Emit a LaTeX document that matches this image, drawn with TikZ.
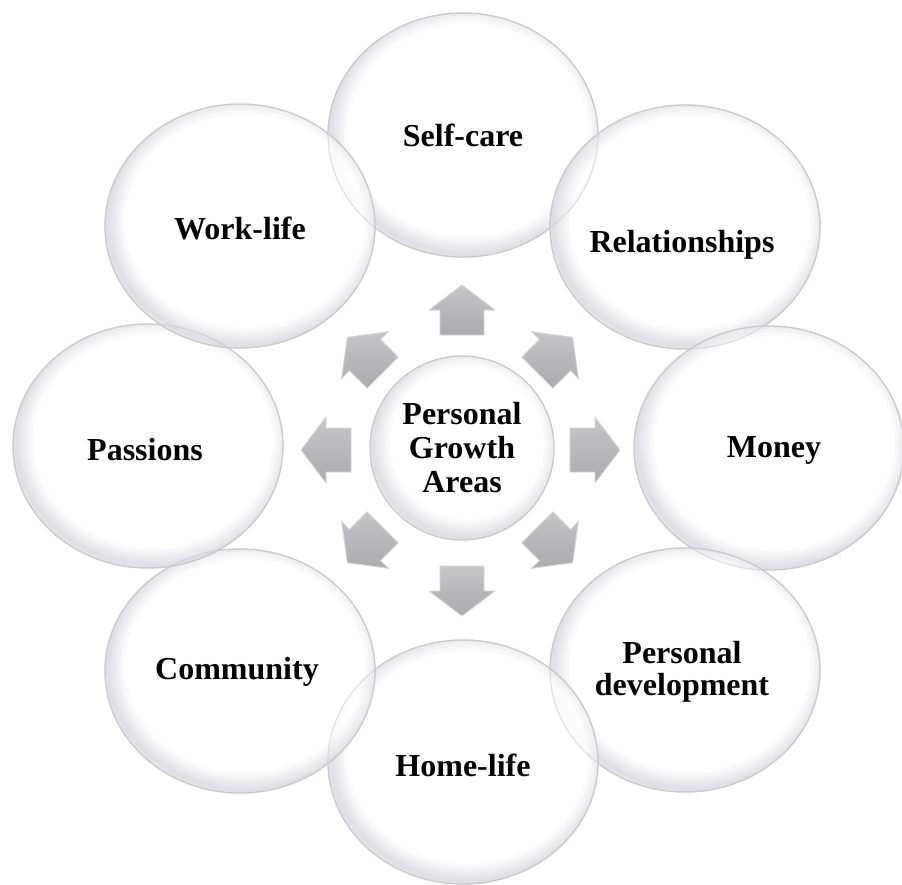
\documentclass[tikz,border=0pt]{standalone}
\usepackage{fontspec}
\setmainfont{Liberation Serif}
\usetikzlibrary{shapes.geometric}
\definecolor{bubbleshadow}{HTML}{AFAFC2}
\definecolor{bubbleline}{HTML}{C8C8CE}
\definecolor{arrtop}{HTML}{C6C6C9}
\definecolor{arrbot}{HTML}{ABABAF}
\definecolor{arrline}{HTML}{D6D6D9}
\tikzset{
  innershadow/.style 2 args={path picture={
    \foreach \w in {34,26,19,13,8,4}{
      \draw[bubbleshadow, line width=\w pt, draw opacity=0.075]
        ([shift={(5pt,5pt)}]path picture bounding box.center) ellipse [x radius=#1, y radius=#2];
    }}},
  bubble/.style={ellipse, minimum width=270pt, minimum height=244pt, inner sep=0pt,
    draw=bubbleline, line width=1.3pt, fill=white, fill opacity=0.85, draw opacity=0.9,
    innershadow={137pt}{124pt}},
  rim/.style={ellipse, minimum width=270pt, minimum height=244pt, inner sep=0pt,
    draw=bubbleline, line width=1.1pt, draw opacity=0.45},
  hubstyle/.style={circle, minimum size=184pt, inner sep=0pt, draw=bubbleline, line width=1.3pt,
    fill=white, innershadow={94pt}{94pt},
    font=\fontsize{32}{34}\selectfont\bfseries, align=center},
  lbl/.style={font=\fontsize{32}{32}\selectfont\bfseries, align=center, text=black, inner sep=0pt},
  arrowshape/.style={top color=arrtop, bottom color=arrbot, draw=arrline, line width=0.8pt}
}
\begin{document}
\begin{tikzpicture}[x=1pt,y=1pt]
\useasboundingbox (0,0) rectangle (902,-884);
\fill[white] (0,0) rectangle (902,-884);
% outer bubbles
\foreach \nm/\px/\py in {b1/463/-135, b2/685/-227, b3/769/-448, b4/685/-670,
                         b5/463/-762, b6/240/-671, b7/148/-446, b8/240/-226}{
  \node[bubble] (\nm) at (\px,\py) {};
}
% rims seen through the overlaps
\foreach \nm/\px/\py in {r1/463/-135, r2/685/-227, r3/769/-448, r4/685/-670,
                         r5/463/-762, r6/240/-671, r7/148/-446, r8/240/-226}{
  \node[rim] (\nm) at (\px,\py) {};
}
% labels
\node[lbl] (t1) at (463,-135) {Self-care};
\node[lbl] (t2) at (682,-245) {Relationships};
\node[lbl] (t3) at (774,-450) {Money};
\node[lbl] (t4) at (682,-672) {Personal\\development};
\node[lbl] (t5) at (463,-765) {Home-life};
\node[lbl] (t6) at (237,-672) {Community};
\node[lbl] (t7) at (145,-450) {Passions};
\node[lbl] (t8) at (240,-228) {Work-life};
% hub
\node[hubstyle] (hub) at (462,-448) {Personal\\Growth\\Areas};
% arrows
\foreach \px/\py/\ang in {462/-310/90, 555/-355/45, 595/-450/0, 555/-545/-45,
                          462/-591/-90, 365/-545/-135, 326/-450/180, 365/-355/135}{
  \begin{scope}[shift={(\px,\py)}, rotate=\ang]
    \shade[arrowshape] (-25,-22) -- (0,-22) -- (0,-33) -- (25,0) -- (0,33) -- (0,22) -- (-25,22) -- cycle;
  \end{scope}
}
\end{tikzpicture}
\end{document}
